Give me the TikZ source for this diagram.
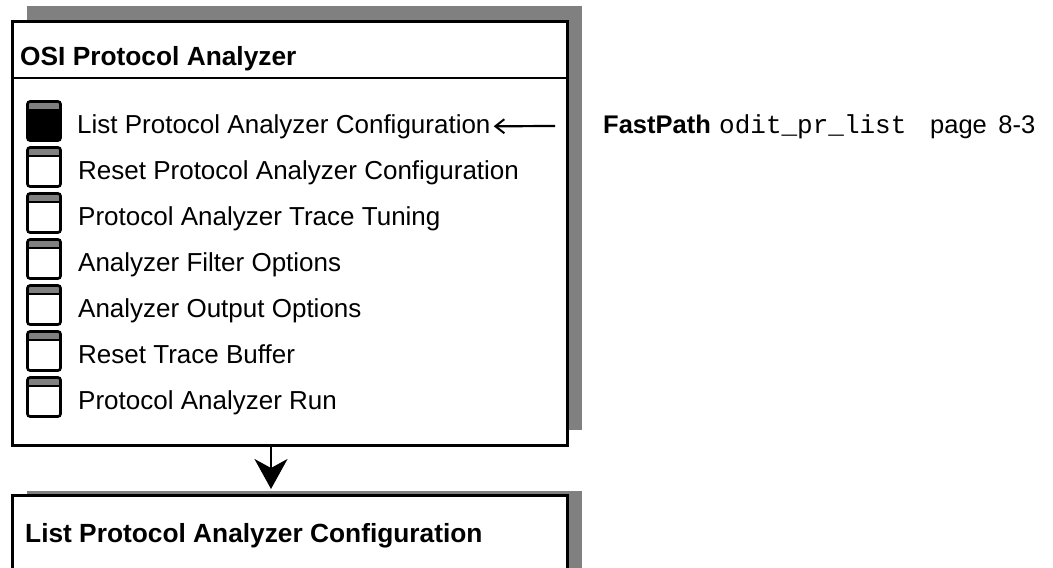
\documentclass[tikz,border=0pt]{standalone}
\usepackage{fontspec}
\setmainfont{Liberation Sans}
\newfontfamily\codefont{Liberation Mono}
\usetikzlibrary{arrows.meta}
\definecolor{shadowgray}{HTML}{808080}
\begin{document}
\begin{tikzpicture}[x=1pt,y=-1pt,
  shadowfill/.style={fill=shadowgray},
  panel/.style={draw, line width=2.5pt, fill=white, inner sep=0pt, anchor=north west},
  icon/.style={draw, line width=2.6pt, rounded corners=2.5pt, minimum width=33pt,
    minimum height=39pt, inner sep=0pt, fill=white,
    path picture={
      \fill[shadowgray] (path picture bounding box.north west) rectangle ([yshift=-8pt]path picture bounding box.north east);
      \draw[line width=2pt] ([yshift=-8pt]path picture bounding box.north west) -- ([yshift=-8pt]path picture bounding box.north east);
    }},
  itemtext/.style={anchor=base west, inner sep=0pt, font=\fontsize{26}{31}\selectfont},
  titletext/.style={anchor=base west, inner sep=0pt, font=\bfseries\fontsize{26.3}{31}\selectfont},
  fptext/.style={anchor=base west, inner sep=0pt, font=\fontsize{25.5}{30}\selectfont},
  fparrow/.style={line width=2.2pt, -{Straight Barb[length=9pt,width=14pt,line width=2pt]}},
  downarrow/.style={line width=2pt, -{Stealth[length=30pt,width=33pt,inset=9pt]}}
]
\useasboundingbox (0,0) rectangle (1053,568);
\clip (0,0) rectangle (1053,568);

% top panel
\fill[shadowfill] (27,6) rectangle (582,430);
\node[panel, minimum width=555pt, minimum height=424pt] (topbox) at (11,20) {};
\draw[line width=2pt] (topbox.west |- 0,78) -- (topbox.east |- 0,78);
\node[titletext] (osititle) at (20,65) {OSI Protocol Analyzer};

% menu items
\node[icon, fill=black] (icon0) at (44,121) {};
\node[itemtext] (item0) at (77,133) {List Protocol Analyzer Configuration};
\foreach \t [count=\k] in {Reset Protocol Analyzer Configuration,
  Protocol Analyzer Trace Tuning, Analyzer Filter Options,
  Analyzer Output Options, Reset Trace Buffer, Protocol Analyzer Run}{
  \node[icon] (icon\k) at (44,121+46*\k) {};
  \node[itemtext] (item\k) at (78,133+46*\k) {\t};
}

% FastPath reference
\node[fptext, font=\bfseries\fontsize{25.5}{30}\selectfont] (fp) at (603,133) {FastPath};
\node[fptext, font=\codefont\fontsize{26}{30}\selectfont] (fpcode) at (719,133) {odit\_pr\_list};
\node[fptext] (fppage) at (930,133) {page\hspace{0.45em}8-3};
\coordinate (fpa) at (555,126);
\draw[fparrow] (fpa) -- ([xshift=3pt]item0.east);

% bottom panel
\fill[shadowfill] (27,491) rectangle (582,620);
\node[panel, minimum width=555pt, minimum height=120pt] (botbox) at (11,494) {};
\node[titletext] (bottitle) at (25,542) {List Protocol Analyzer Configuration};

% down arrow
\coordinate (ax) at (271,0);
\draw[downarrow] (topbox.south -| ax) -- ([yshift=5pt]botbox.north -| ax);
\end{tikzpicture}
\end{document}
